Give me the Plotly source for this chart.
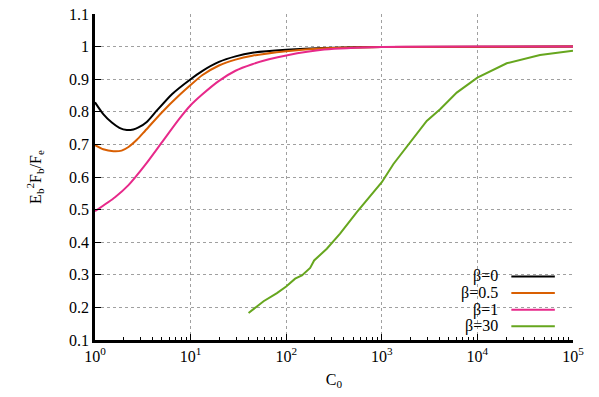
import plotly.graph_objects as go

# ---------------- data ----------------
c0_beta0 = [1, 1.22, 1.5, 1.8, 2.15, 2.52, 2.85, 3.48, 4.26, 6.38, 10, 13.2, 19.8, 29.5, 44.2, 100, 250, 1000, 100000]
ratio_beta0 = [0.829, 0.793, 0.767, 0.751, 0.744, 0.746, 0.752, 0.769, 0.798, 0.854, 0.900, 0.925, 0.953, 0.970, 0.981, 0.990, 0.996, 0.999, 1.0]

c0_beta05 = [1, 1.22, 1.56, 1.9, 2.24, 2.74, 3.35, 5.0, 7.5, 10, 13.2, 19.8, 29.5, 44.2, 100, 250, 1000, 100000]
ratio_beta05 = [0.698, 0.685, 0.679, 0.681, 0.692, 0.714, 0.742, 0.798, 0.849, 0.882, 0.912, 0.942, 0.960, 0.972, 0.986, 0.995, 0.999, 1.0]

c0_beta1 = [1, 1.62, 2.24, 3.35, 5.0, 7.5, 10, 13.2, 19.8, 29.5, 44.2, 66, 100, 250, 1000, 100000]
ratio_beta1 = [0.495, 0.538, 0.575, 0.637, 0.706, 0.776, 0.820, 0.853, 0.895, 0.926, 0.946, 0.961, 0.973, 0.991, 0.999, 1.0]

c0_beta30 = [40.4, 58, 80, 100, 124, 146, 178, 196, 266, 366, 548, 818, 1000, 1324,
             1977, 2951, 4074, 6081, 10000, 20280, 45190, 100000]
ratio_beta30 = [0.183, 0.219, 0.244, 0.264, 0.288, 0.298, 0.321, 0.344, 0.380, 0.426, 0.492,
                0.553, 0.584, 0.640, 0.706, 0.772, 0.808, 0.859, 0.905, 0.949, 0.974, 0.987]

series_names = ["β=0", "β=0.5", "β=1", "β=30"]
series_colors = ["#000000", "#d95f02", "#e7298a", "#66a61e"]

x_tickvals = [1, 10, 100, 1000, 10000, 100000]
x_ticktext = ["10<sup>0</sup>", "10<sup>1</sup>", "10<sup>2</sup>", "10<sup>3</sup>",
              "10<sup>4</sup>", "10<sup>5</sup>"]
y_tickvals = [0.1, 0.2, 0.3, 0.4, 0.5, 0.6, 0.7, 0.8, 0.9, 1.0, 1.1]
y_ticktext = ["0.1", "0.2", "0.3", "0.4", "0.5", "0.6", "0.7", "0.8", "0.9", "1", "1.1"]

FONT = "Liberation Serif, Times New Roman, Times, serif"

fig = go.Figure()

# white box behind the legend (hides the grid there, as in the reference)
fig.add_shape(type="rect", xref="paper", yref="paper", x0=0.743, x1=0.979, y0=0.004, y1=0.221,
              fillcolor="white", line=dict(width=0), layer="between")

all_x = [c0_beta0, c0_beta05, c0_beta1, c0_beta30]
all_y = [ratio_beta0, ratio_beta05, ratio_beta1, ratio_beta30]
for xs, ys, name, col in zip(all_x, all_y, series_names, series_colors):
    fig.add_trace(go.Scatter(
        x=xs, y=ys, mode="lines", name=name,
        line=dict(color=col, width=2,
                  shape="spline" if name != "β=30" else "linear", smoothing=0.6),
        showlegend=False,
    ))

# legend drawn with the line sample to the right of the label (as in the reference)
leg_y0 = 0.195   # paper y of first entry
leg_dy = 0.051
for i, (name, col) in enumerate(zip(series_names, series_colors)):
    yy = leg_y0 - i * leg_dy
    fig.add_annotation(x=0.848, y=yy, xref="paper", yref="paper", text=name,
                       showarrow=False, xanchor="right", yanchor="middle",
                       font=dict(family=FONT, size=16, color="#000"))
    fig.add_shape(type="line", xref="paper", yref="paper",
                  x0=0.871, x1=0.962, y0=yy, y1=yy,
                  line=dict(color=col, width=2))

minor_vals = [m * 10 ** k for k in range(0, 5) for m in range(2, 10)]

fig.update_xaxes(
    type="log", range=[0, 5], automargin=False, ticklabeloverflow="allow",
    tickvals=x_tickvals, ticktext=x_ticktext,
    ticks="inside", ticklen=6, tickwidth=1, tickcolor="#000",
    minor=dict(tickvals=minor_vals, ticks="inside", ticklen=3, tickcolor="#000", showgrid=False),
    showgrid=True, gridcolor="#a0a0a0", griddash="dot", gridwidth=1,
    showline=True, linecolor="#000", linewidth=2.5,
    zeroline=False,
    title=dict(text="C<sub>0</sub>", font=dict(family=FONT, size=16), standoff=10),
    tickfont=dict(family=FONT, size=16, color="#000"),
)
fig.update_yaxes(
    range=[0.1, 1.10001], automargin=False, ticklabeloverflow="allow",
    tickvals=y_tickvals, ticktext=y_ticktext,
    ticks="inside", ticklen=6, tickwidth=1, tickcolor="#000",
    showgrid=True, gridcolor="#a0a0a0", griddash="dot", gridwidth=1,
    showline=True, linecolor="#000", linewidth=2.5,
    zeroline=False,
    title=dict(text="E<sub>b</sub><sup>2</sup>F<sub>b</sub>/F<sub>e</sub>",
               font=dict(family=FONT, size=16), standoff=24),
    tickfont=dict(family=FONT, size=16, color="#000"),
)

fig.update_layout(
    width=599, height=397,
    margin=dict(l=95, r=26, t=14, b=57),
    plot_bgcolor="white", paper_bgcolor="white",
    font=dict(family=FONT, size=16, color="#000"),
    showlegend=False,
)

# remove the page's default body margin so the figure sits at the window's corner
fig.write_html("out.html", config={"displayModeBar": False},
               post_script="document.body.style.margin='0';")
